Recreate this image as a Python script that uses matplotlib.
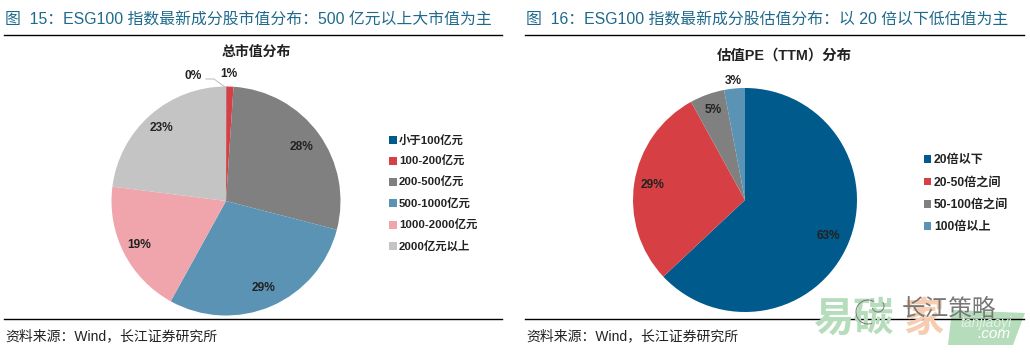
import matplotlib
matplotlib.use('Agg')
import matplotlib.pyplot as plt
from matplotlib.patches import Arc
import numpy as np

plt.rcParams['font.family'] = ['Liberation Sans', 'Noto Sans CJK SC']

W, H = 1030, 356

# left pie
cap_labels = ['小于100亿元', '100-200亿元', '200-500亿元', '500-1000亿元', '1000-2000亿元', '2000亿元以上']
cap_values = [0.05, 1, 28, 29, 19, 23]
cap_colors = ['#005A8C', '#D64045', '#808080', '#5B93B5', '#EFA5AB', '#C4C4C4']

# right pie
pe_labels = ['20倍以下', '20-50倍之间', '50-100倍之间', '100倍以上']
pe_values = [63, 29, 5, 3]
pe_colors = ['#005A8C', '#D64045', '#808080', '#5B93B5']

title_color = '#1F6A8C'


def px_text(fig, x, y, s, **kw):
	# x, y in reference pixels, y from the top
	return fig.text(x / W, 1 - y / H, s, va='center', **kw)


def px_line(fig, x0, x1, y, lw=1.0, color='black'):
	fig.add_artist(plt.Line2D([x0 / W, x1 / W], [1 - y / H, 1 - y / H], color=color, lw=lw, zorder=3))


def draw_pie(fig, cx, cy, r, values, colors, dist):
	ax = fig.add_axes([(cx - r) / W, 1 - (cy + r) / H, 2 * r / W, 2 * r / H])
	wedges, _ = ax.pie(values, colors=colors, startangle=90, counterclock=False, radius=1,
		wedgeprops={'linewidth': 0})
	ax.set_xlim(-1, 1)
	ax.set_ylim(-1, 1)
	ax.axis('off')
	for w, v, d in zip(wedges, values, dist):
		if d is None:
			continue
		a = np.deg2rad((w.theta1 + w.theta2) / 2)
		ax.text(d * np.cos(a), d * np.sin(a), f'{round(v)}%', ha='center', va='center',
			fontsize=8.6, fontweight='bold', color='#222222', clip_on=False)
	return ax, wedges


fig = plt.figure(figsize=(W / 100, H / 100), dpi=100, facecolor='white')

# watermark goes first, the rules and the logo text lie over it
px_text(fig, 813, 320, '易碳', fontsize=29, fontweight='bold', color='#B5DDBB')
px_text(fig, 903, 320, '家', fontsize=29, fontweight='bold', color='#F6CDB0')
fig.patches.append(plt.Polygon([[948 / W, 1 - 345 / H], [1013 / W, 1 - 345 / H], [1025 / W, 1 - 313 / H], [952 / W, 1 - 310 / H]],
	closed=True, transform=fig.transFigure, facecolor='#B5DDBB', edgecolor='none', figure=fig))
px_text(fig, 960, 323, 'tanjiaoyi', fontsize=10, style='italic', color='#E4F3E6', zorder=5)
px_text(fig, 977, 334, '.com', fontsize=11, style='italic', color='white', zorder=5)
px_text(fig, 902, 310, '长江策略', fontsize=17, color='#777777', zorder=6)

# logo swirl
sx = fig.dpi_scale_trans
for cx, cy, d, t1, t2 in [(868, 312, 24, 60, 290), (878, 306, 12, 200, 40)]:
	fig.add_artist(Arc((cx / 100, (H - cy) / 100), d / 100, d / 100, theta1=t1, theta2=t2,
		transform=sx, color='#777777', lw=0.7, zorder=6))

# headers
px_text(fig, 5, 20, '图  15：ESG100 指数最新成分股市值分布：500 亿元以上大市值为主', fontsize=11.4, color=title_color)
px_text(fig, 526, 20, '图  16：ESG100 指数最新成分股估值分布：以 20 倍以下低估值为主', fontsize=11.4, color=title_color)
px_line(fig, 4, 502, 35)
px_line(fig, 525, 1024, 35)
px_line(fig, 4, 502, 319)
px_line(fig, 525, 1024, 319)
px_text(fig, 5, 336, '资料来源：Wind，长江证券研究所', fontsize=10, color='#222222')
px_text(fig, 526, 336, '资料来源：Wind，长江证券研究所', fontsize=10, color='#222222')

# chart titles
px_text(fig, 256, 52, '总市值分布', fontsize=10, fontweight='bold', ha='center', color='#222222')
px_text(fig, 784, 56, '估值PE（TTM）分布', fontsize=10.4, fontweight='bold', ha='center', color='#222222')

ax1, w1 = draw_pie(fig, 226, 201, 114.5, cap_values, cap_colors, [None, None, 0.81, 0.83, 0.85, 0.85])
ax2, w2 = draw_pie(fig, 745, 200, 112, pe_values, pe_colors, [0.81, 0.84, 0.85, 1.07])

# small slices with leader line
px_text(fig, 193, 76, '0%', fontsize=8.6, fontweight='bold', ha='center', color='#222222')
px_text(fig, 229, 74, '1%', fontsize=8.6, fontweight='bold', ha='center', color='#222222')
fig.add_artist(plt.Line2D([206 / W, 214 / W, 225 / W], [1 - 79 / H, 1 - 79 / H, 1 - 87 / H], color='#BBBBBB', lw=0.7))

fig.legend(w1, cap_labels, loc='upper left', bbox_to_anchor=(389 / W, 1 - 134.5 / H), frameon=False,
	prop={'size': 8.2, 'weight': 'bold'}, labelcolor='#222222', handlelength=0.68, handleheight=0.68,
	handletextpad=0.2, labelspacing=0.89, borderaxespad=0, borderpad=0)
fig.legend(w2, pe_labels, loc='upper left', bbox_to_anchor=(924 / W, 1 - 154.5 / H), frameon=False,
	prop={'size': 8.7, 'weight': 'bold'}, labelcolor='#222222', handlelength=0.62, handleheight=0.62,
	handletextpad=0.2, labelspacing=0.85, borderaxespad=0, borderpad=0)

fig.savefig('out.png', dpi=100)
